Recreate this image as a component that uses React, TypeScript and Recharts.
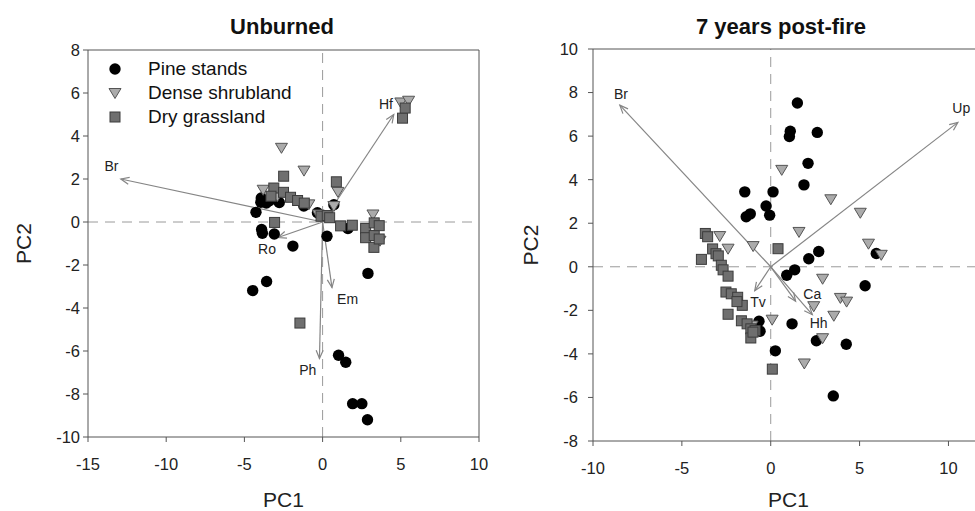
import { ScatterChart, Scatter, XAxis, YAxis, ReferenceLine, ReferenceDot } from 'recharts'

const FONT = '"Liberation Sans", Arial, Helvetica, sans-serif'

type Pt = [number, number]

interface Vector {
  name: string
  x: number
  y: number
  lx: number
  ly: number
}

// ---- Unburned ----
const unburnedPine: Pt[] = [
  [-4.26, 0.45], [-3.9, -0.35], [-3.85, -0.52], [-3.09, -0.56], [-1.9, -1.12],
  [0.28, -0.66], [1.62, -0.3], [-4.47, -3.19], [-3.58, -2.77], [2.9, -2.39],
  [1.02, -6.2], [1.48, -6.52], [1.92, -8.45], [2.51, -8.45], [2.87, -9.2],
  [-3.92, 1.12], [-3.95, 0.92], [-3.4, 0.99], [-3.6, 0.88], [-2.77, 0.91],
  [-1.2, 0.74], [-0.33, 0.43], [0.72, 0.8],
]
const unburnedShrub: Pt[] = [
  [-2.63, 3.45], [-1.19, 2.39], [0.98, 1.4], [0.72, 0.74], [3.22, 0.35],
  [3.67, -0.87], [-3.8, 1.5], [-0.88, 0.82], [-0.28, 0.35], [5.0, 5.56],
  [5.5, 5.64], [-2.9, 1.2],
]
const unburnedGrass: Pt[] = [
  [5.11, 4.83], [5.28, 5.3], [-2.49, 2.13], [-3.12, 1.58], [-2.5, 1.38],
  [-2.05, 1.15], [-1.6, 1.0], [-1.17, 0.88], [-3.07, -0.02], [-1.45, -4.7],
  [0.88, 1.87], [-0.1, 0.27], [0.3, 0.3], [0.45, 0.2], [1.15, -0.18],
  [1.9, -0.15], [2.75, -0.3], [2.75, -0.73], [3.3, -0.63], [3.3, -0.04],
  [3.62, -0.17], [3.28, -1.18], [3.62, -0.79], [-3.3, 1.2],
]
const unburnedVectors: Vector[] = [
  { name: 'Br', x: -12.9, y: 2.0, lx: -13.5, ly: 2.6 },
  { name: 'Hf', x: 4.55, y: 5.0, lx: 4.05, ly: 5.5 },
  { name: 'Ro', x: -2.85, y: -0.72, lx: -3.55, ly: -1.25 },
  { name: 'Em', x: 0.6, y: -3.05, lx: 1.6, ly: -3.6 },
  { name: 'Ph', x: -0.2, y: -6.35, lx: -0.95, ly: -6.9 },
]

// ---- 7 years post-fire ----
const postFirePine: Pt[] = [
  [1.5, 7.52], [1.1, 6.22], [1.05, 5.98], [2.62, 6.17], [2.1, 4.75],
  [1.87, 3.76], [-1.46, 3.44], [0.13, 3.44], [-0.26, 2.79], [-0.06, 2.37],
  [-1.38, 2.3], [-1.15, 2.43], [2.7, 0.7], [2.14, 0.37], [1.35, -0.14],
  [0.9, -0.39], [5.94, 0.61], [5.31, -0.87], [1.2, -2.62], [-0.66, -2.5],
  [-0.6, -2.96], [0.26, -3.86], [2.57, -3.4], [4.25, -3.56], [3.52, -5.93],
]
const postFireShrub: Pt[] = [
  [0.62, 4.45], [3.38, 3.1], [5.04, 2.48], [1.59, 1.6], [5.5, 1.06],
  [6.22, 0.55], [-0.99, 0.95], [-2.87, 1.41], [-2.4, 0.83], [2.92, -0.55],
  [3.92, -1.43], [4.27, -1.6], [2.42, -1.81], [3.55, -2.25], [0.08, -2.43],
  [2.92, -3.28], [1.89, -4.44], [-1.05, -2.7],
]
const postFireGrass: Pt[] = [
  [0.41, 0.83], [0.09, -4.7], [-3.68, 1.53], [-3.55, 1.38], [-3.9, 0.34],
  [-3.27, 0.82], [-3.08, 0.6], [-2.95, 0.5], [-2.78, 0.07], [-2.68, -0.14],
  [-2.4, -0.43], [-2.52, -1.16], [-2.22, -1.24], [-1.86, -1.4], [-1.6, -1.77],
  [-2.4, -2.18], [-1.65, -2.48], [-1.33, -2.62], [-1.12, -2.85], [-0.88, -2.93],
  [-1.12, -3.27], [-1.9, -1.6], [-1.0, -3.0],
]
const postFireVectors: Vector[] = [
  { name: 'Br', x: -8.49, y: 7.42, lx: -8.43, ly: 7.95 },
  { name: 'Up', x: 10.53, y: 6.63, lx: 10.72, ly: 7.3 },
  { name: 'Tv', x: -0.9, y: -1.1, lx: -0.71, ly: -1.61 },
  { name: 'Ca', x: 1.4, y: -1.58, lx: 2.34, ly: -1.25 },
  { name: 'Hh', x: 2.34, y: -2.2, lx: 2.7, ly: -2.58 },
]

const unburnedXTicks = [-15, -10, -5, 0, 5, 10]
const unburnedYTicks = [-10, -8, -6, -4, -2, 0, 2, 4, 6, 8]
const postFireXTicks = [-10, -5, 0, 5, 10]
const postFireYTicks = [-8, -6, -4, -2, 0, 2, 4, 6, 8, 10]

const toPoints = (arr: Pt[]) => arr.map(([x, y]) => ({ x, y }))

function PineShape(props: any) {
  const { cx, cy } = props
  return <circle cx={cx} cy={cy} r={5.7} fill="#000" />
}

function ShrubShape(props: any) {
  const { cx, cy } = props
  return (
    <polygon
      points={`${cx - 6},${cy - 4.5} ${cx + 6},${cy - 4.5} ${cx},${cy + 5.5}`}
      fill="#ababab"
      stroke="#555"
      strokeWidth={1}
    />
  )
}

function GrassShape(props: any) {
  const { cx, cy } = props
  return <rect x={cx - 5} y={cy - 5} width={10} height={10} fill="#6f6f6f" stroke="#3c3c3c" strokeWidth={1} />
}

function ArrowShape(props: any) {
  const { x1, y1, x2, y2 } = props
  const a = Math.atan2(y2 - y1, x2 - x1)
  const len = 9
  const spread = 0.4
  const p1 = [x2 - len * Math.cos(a - spread), y2 - len * Math.sin(a - spread)]
  const p2 = [x2 - len * Math.cos(a + spread), y2 - len * Math.sin(a + spread)]
  return (
    <g>
      <line x1={x1} y1={y1} x2={x2} y2={y2} stroke="#858585" strokeWidth={1.2} />
      <polyline
        points={`${p1[0]},${p1[1]} ${x2},${y2} ${p2[0]},${p2[1]}`}
        fill="none"
        stroke="#858585"
        strokeWidth={1.2}
      />
    </g>
  )
}

const vectorLabel = (name: string) => (props: any) => (
  <text
    x={props.cx}
    y={props.cy}
    textAnchor="middle"
    dominantBaseline="central"
    fontSize={14}
    fontFamily={FONT}
    fill="#222"
  >
    {name}
  </text>
)

// PC1 centred at a fixed page row
const xAxisLabel = (absY: number) => (props: any) => {
  const vb = props.viewBox
  return (
    <text x={vb.x + vb.width / 2} y={absY} textAnchor="middle" dominantBaseline="central" fontSize={21} fontFamily={FONT} fill="#222">
      PC1
    </text>
  )
}

const yAxisLabel = (dx: number) => (props: any) => {
  const vb = props.viewBox
  const x = vb.x + dx
  const y = vb.y + vb.height / 2
  return (
    <text x={x} y={y} transform={`rotate(-90, ${x}, ${y})`} textAnchor="middle" dominantBaseline="central" fontSize={21} fontFamily={FONT} fill="#222">
      PC2
    </text>
  )
}

interface PanelProps {
  width: number
  margin: { top: number; right: number; bottom: number; left: number }
  xDomain: [number, number]
  yDomain: [number, number]
  xTicks: number[]
  yTicks: number[]
  pine: Pt[]
  shrub: Pt[]
  grass: Pt[]
  vectors: Vector[]
  xTickMargin: number
  yTickMargin: number
  yLabelDx: number
  rightFrame: boolean
}

const tickStyle = { fill: '#222', fontSize: 16.5, fontFamily: FONT }

function BiplotPanel(p: PanelProps) {
  return (
    <ScatterChart width={p.width} height={511} margin={p.margin}>
      <XAxis
        type="number"
        dataKey="x"
        domain={p.xDomain}
        ticks={p.xTicks}
        allowDataOverflow
        height={30}
        tickSize={5}
        tickMargin={p.xTickMargin}
        tick={tickStyle}
        axisLine={{ stroke: '#555' }}
        tickLine={{ stroke: '#555' }}
        label={xAxisLabel(499)}
      />
      <YAxis
        type="number"
        dataKey="y"
        domain={p.yDomain}
        ticks={p.yTicks}
        allowDataOverflow
        width={50}
        tickSize={5}
        tickMargin={p.yTickMargin}
        tick={tickStyle}
        axisLine={{ stroke: '#555' }}
        tickLine={{ stroke: '#555' }}
        label={yAxisLabel(p.yLabelDx)}
      />
      <ReferenceLine x={0} stroke="#9a9a9a" strokeDasharray="10 7" />
      <ReferenceLine y={0} stroke="#9a9a9a" strokeDasharray="10 7" />
      <ReferenceLine y={p.yDomain[1]} stroke="#555" ifOverflow="visible" />
      {p.rightFrame && <ReferenceLine x={p.xDomain[1]} stroke="#555" ifOverflow="visible" />}
      <Scatter data={toPoints(p.pine)} shape={PineShape} isAnimationActive={false} />
      <Scatter data={toPoints(p.shrub)} shape={ShrubShape} isAnimationActive={false} />
      <Scatter data={toPoints(p.grass)} shape={GrassShape} isAnimationActive={false} />
      {p.vectors.map((v) => (
        <ReferenceLine
          key={'v' + v.name}
          segment={[{ x: 0, y: 0 }, { x: v.x, y: v.y }]}
          shape={ArrowShape}
          ifOverflow="visible"
        />
      ))}
      {p.vectors.map((v) => (
        <ReferenceDot key={'l' + v.name} x={v.lx} y={v.ly} r={0} shape={vectorLabel(v.name)} ifOverflow="visible" />
      ))}
    </ScatterChart>
  )
}

function LegendIcon({ kind }: { kind: 'pine' | 'shrub' | 'grass' }) {
  return (
    <svg width={14} height={14} style={{ display: 'block' }}>
      {kind === 'pine' && <PineShape cx={7} cy={7} />}
      {kind === 'shrub' && <ShrubShape cx={7} cy={7} />}
      {kind === 'grass' && <GrassShape cx={7} cy={7} />}
    </svg>
  )
}

const legendItems: { kind: 'pine' | 'shrub' | 'grass'; label: string }[] = [
  { kind: 'pine', label: 'Pine stands' },
  { kind: 'shrub', label: 'Dense shrubland' },
  { kind: 'grass', label: 'Dry grassland' },
]

const titleStyle = {
  position: 'absolute' as const,
  top: 15,
  transform: 'translateX(-50%)',
  fontSize: 22,
  lineHeight: '24px',
  fontWeight: 'bold' as const,
  color: '#111',
  whiteSpace: 'nowrap' as const,
}

export default function App() {
  return (
    <div
      style={{
        position: 'absolute',
        left: 0,
        top: 0,
        width: 975,
        height: 511,
        overflow: 'hidden',
        background: '#fff',
        fontFamily: FONT,
      }}
    >
      <div style={{ position: 'absolute', left: 0, top: 0 }}>
        <BiplotPanel
          width={490}
          margin={{ top: 50, right: 11, bottom: 44, left: 38 }}
          xDomain={[-15, 10]}
          yDomain={[-10, 8]}
          xTicks={unburnedXTicks}
          yTicks={unburnedYTicks}
          pine={unburnedPine}
          shrub={unburnedShrub}
          grass={unburnedGrass}
          vectors={unburnedVectors}
          xTickMargin={16}
          yTickMargin={3}
          yLabelDx={-15}
          rightFrame
        />
      </div>
      <div style={{ position: 'absolute', left: 490, top: 0 }}>
        <BiplotPanel
          width={500}
          margin={{ top: 49, right: 6, bottom: 40, left: 53 }}
          xDomain={[-10, 12]}
          yDomain={[-8, 10]}
          xTicks={postFireXTicks}
          yTicks={postFireYTicks}
          pine={postFirePine}
          shrub={postFireShrub}
          grass={postFireGrass}
          vectors={postFireVectors}
          xTickMargin={16}
          yTickMargin={10}
          yLabelDx={-13}
          rightFrame={false}
        />
      </div>
      <div style={{ ...titleStyle, left: 282 }}>Unburned</div>
      <div style={{ ...titleStyle, left: 781 }}>7 years post-fire</div>
      <div style={{ position: 'absolute', left: 108, top: 57 }}>
        {legendItems.map((it) => (
          <div key={it.kind} style={{ display: 'flex', alignItems: 'center', height: 24 }}>
            <LegendIcon kind={it.kind} />
            <span style={{ marginLeft: 26, fontSize: 19, color: '#111' }}>{it.label}</span>
          </div>
        ))}
      </div>
    </div>
  )
}
